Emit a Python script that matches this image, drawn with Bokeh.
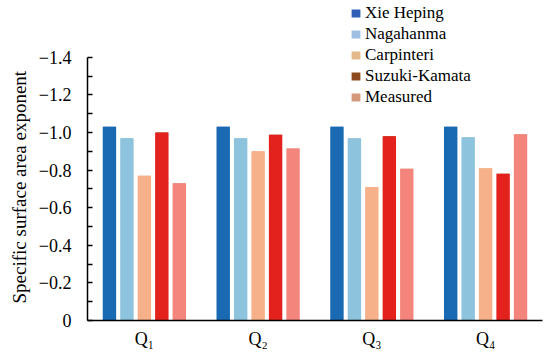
from bokeh.plotting import figure
from bokeh.models import (ColumnDataSource, FactorRange, Range1d, FixedTicker,
                          Legend, LegendItem, Title)
from bokeh.transform import dodge
from bokeh.embed import file_html
from bokeh.resources import INLINE

categories = ["Q₁", "Q₂", "Q₃", "Q₄"]
series_names = ["Xie Heping", "Nagahanma", "Carpinteri", "Suzuki-Kamata", "Measured"]
xie_heping = [-1.03, -1.03, -1.03, -1.03]
nagahanma = [-0.97, -0.97, -0.97, -0.975]
carpinteri = [-0.77, -0.90, -0.71, -0.81]
suzuki_kamata = [-1.00, -0.988, -0.98, -0.78]
measured = [-0.73, -0.915, -0.807, -0.99]
y_ticks = [-1.4, -1.2, -1.0, -0.8, -0.6, -0.4, -0.2, 0]
y_tick_labels = ["−1.4", "−1.2", "−1.0", "−0.8", "−0.6", "−0.4", "−0.2", "0"]
y_minor_ticks = [-1.3, -1.1, -0.9, -0.7, -0.5, -0.3, -0.1]
y_label = "Specific surface area exponent"

bar_colors = ["#1a6ab3", "#8dc3dc", "#f6b08a", "#e3221d", "#f4857d"]
legend_colors = ["#2f5fb5", "#9fbfe2", "#e3b98c", "#8c4a1e", "#d59a7e"]

FONT = "Liberation Serif"

src = ColumnDataSource(dict(cat=categories, s0=xie_heping, s1=nagahanma,
                            s2=carpinteri, s3=suzuki_kamata, s4=measured))

p = figure(x_range=FactorRange(*categories, range_padding=0),
           y_range=Range1d(0, -1.702),
           width=550, height=353, output_backend="svg", toolbar_location=None,
           min_border_left=87, min_border_right=8, min_border_top=0,
           min_border_bottom=33)
p.outline_line_color = None
p.xgrid.grid_line_color = None
p.ygrid.grid_line_color = None

pitch = 0.1535
width = 0.118
offsets = [-2 * pitch, -pitch, 0, pitch, 2 * pitch]
items = []
for i, (name, col) in enumerate(zip(series_names, ["s0", "s1", "s2", "s3", "s4"])):
    # legend-coloured bar hidden beneath the visible bar (used for the legend key)
    key = p.vbar(x=dodge("cat", offsets[i], range=p.x_range), top=col, bottom=0,
                 width=width * 0.9, source=src, fill_color=legend_colors[i],
                 line_color=None)
    p.vbar(x=dodge("cat", offsets[i], range=p.x_range), top=col, bottom=0,
           width=width, source=src, fill_color=bar_colors[i], line_color=None)
    items.append(LegendItem(label=name, renderers=[key]))

legend = Legend(items=items, location=(263, 213), orientation="vertical",
                padding=0, margin=0, spacing=0, label_height=21,
                glyph_width=11, glyph_height=10, label_standoff=4,
                label_text_font=FONT, label_text_font_size="17px",
                label_text_color="black",
                border_line_color=None, background_fill_alpha=0)
p.add_layout(legend, "center")

ya = p.yaxis[0]
ya.bounds = (-1.4, 0)
ya.ticker = FixedTicker(ticks=y_ticks, minor_ticks=y_minor_ticks)
ya.major_label_overrides = {t: l for t, l in zip(y_ticks, y_tick_labels)}
ya.major_tick_in = 5
ya.major_tick_out = 0
ya.minor_tick_in = 5
ya.minor_tick_out = 0
ya.major_label_standoff = 16
ya.axis_line_width = 1.5
ya.major_tick_line_width = 1.5
ya.minor_tick_line_width = 1.5
ya.major_label_text_font = FONT
ya.major_label_text_font_size = "18px"
ya.major_label_text_color = "black"

ylab = Title(text=y_label, align="left", offset=17, standoff=11,
             text_font=FONT, text_font_size="19px", text_font_style="normal",
             text_color="black")
p.add_layout(ylab, "left")

xa = p.xaxis[0]
xa.major_tick_line_color = None
xa.minor_tick_line_color = None
xa.major_tick_in = 0
xa.major_tick_out = 0
xa.minor_tick_in = 0
xa.minor_tick_out = 0
xa.axis_line_width = 1.5
xa.major_label_standoff = 8
xa.major_label_text_font = FONT
xa.major_label_text_font_size = "18px"
xa.major_label_text_color = "black"

open("out.html", "w").write(file_html(p, INLINE))
